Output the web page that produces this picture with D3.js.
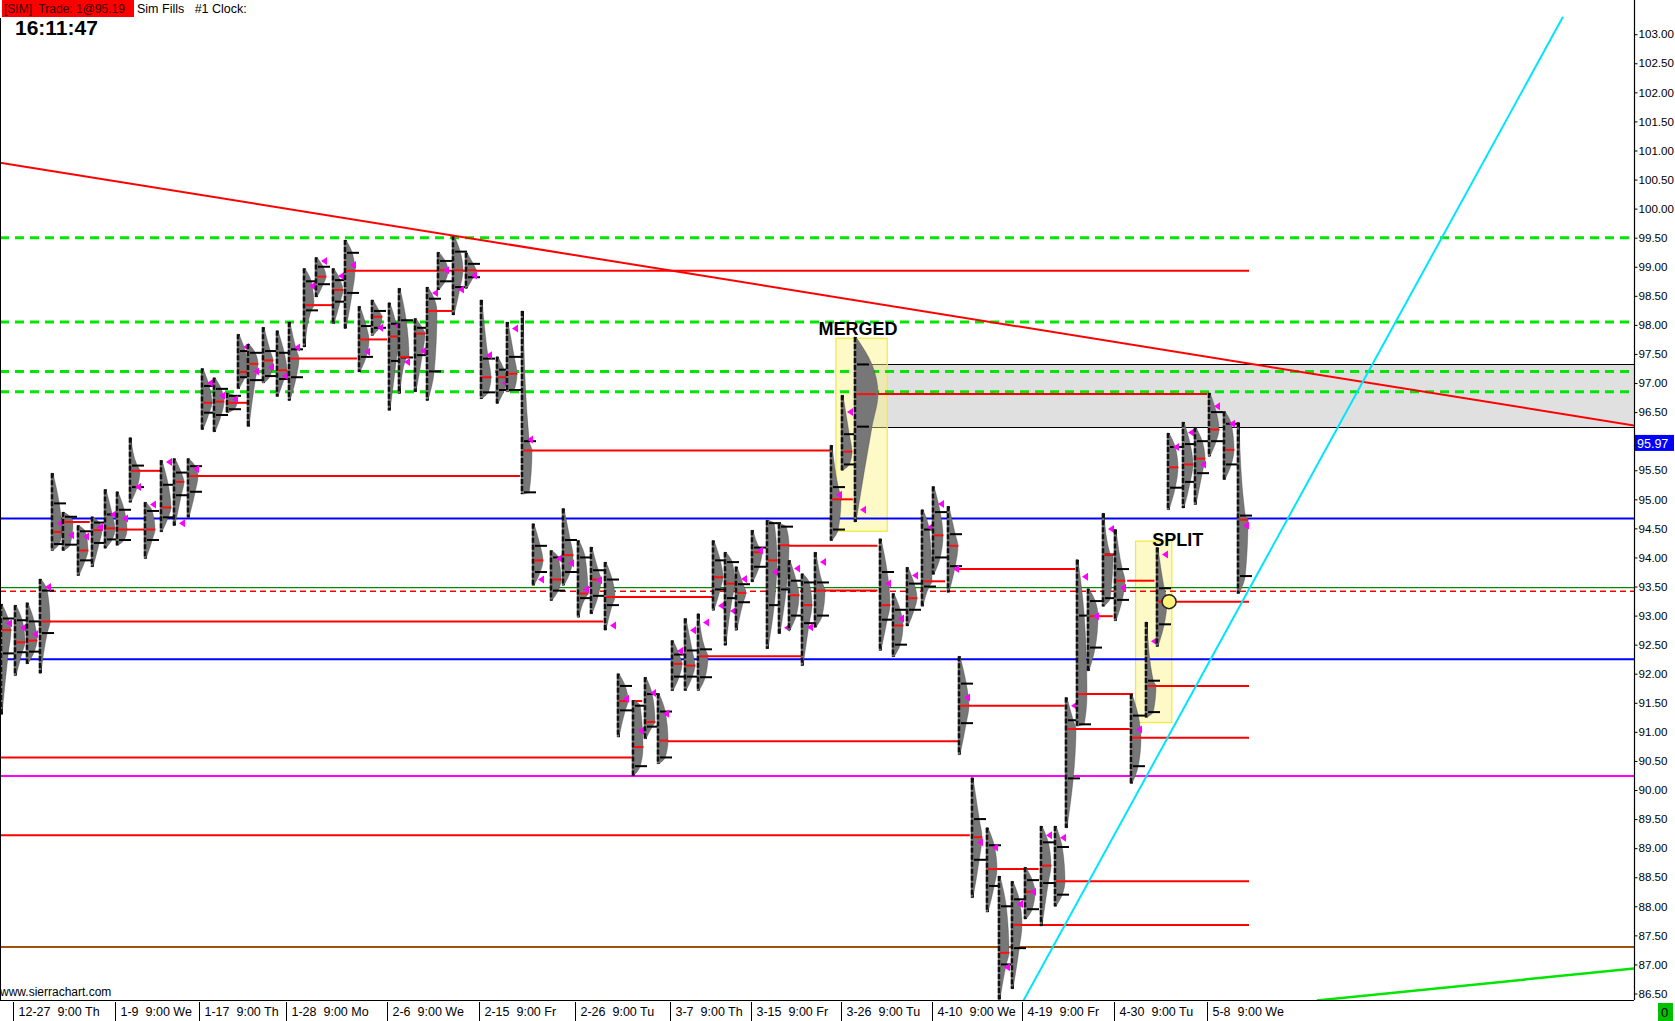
<!DOCTYPE html>
<html><head><meta charset="utf-8">
<script src="https://cdn.jsdelivr.net/npm/d3@7"></script>
<style>
body{margin:0;background:#fff;overflow:hidden}
svg text{font-family:"Liberation Sans",Arial,sans-serif}
</style>
</head><body>
<svg id="c" width="1675" height="1021"></svg>
<script>
// ---------------- DATA ----------------
const priceTicks = [86.5,87,87.5,88,88.5,89,89.5,90,90.5,91,91.5,92,92.5,93,93.5,94,94.5,95,95.5,96.5,97,97.5,98,98.5,99,99.5,100,100.5,101,101.5,102,102.5,103];
const timeLabels = ["12-27  9:00 Th","1-9  9:00 We","1-17  9:00 Th","1-28  9:00 Mo","2-6  9:00 We","2-15  9:00 Fr","2-26  9:00 Tu","3-7  9:00 Th","3-15  9:00 Fr","3-26  9:00 Tu","4-10  9:00 We","4-19  9:00 Fr","4-30  9:00 Tu","5-8  9:00 We"];
const timePos = [0.98,8.85,15.28,22.0,29.75,36.82,44.21,51.52,57.77,64.67,71.66,78.65,85.69,92.85];

// TPO profiles (session position, high, low, value area high/low, POC, marker)
const profPos  = [0.1,1.15,2.08,3.08, 4.0,4.85,6.0,7.08,8.08,9.0,10.0,11.15,12.38,13.38,14.46,
  15.54,16.46,17.46,18.31,19.08,20.23,21.31,22.23,23.38,24.31,25.62,26.54,27.62,28.62,29.92,30.69,31.92,32.85,33.69,34.85,35.85,37.0,38.23,39.0,40.15,
  41.0,42.38,43.31,44.46,45.46,46.54,47.54,48.69,49.62,50.62,51.69,52.69,53.69,54.85,55.77,56.62,57.85,59.0,59.92,60.69,61.69,62.69,
  63.92,64.77,65.77,67.69,68.69,
  69.77,70.92,71.77,72.92,73.77,74.77,75.92,76.85,77.85,78.85,80.08,81.15,82.0,82.85,83.69,84.85,85.77,87.0,88.15,89.0,
  89.85,91.0,91.92,93.0,94.15,95.23];
const profHigh = [93.20,93.18,93.22,93.63, 95.45,94.78,94.55,94.70,95.17,95.13,96.06,94.95,95.67,95.70,95.70,
  97.25,97.09,96.83,97.84,97.67,97.96,97.90,98.05,98.97,99.16,98.97,99.46,98.32,98.43,98.38,98.63,98.11,98.65,99.25,99.54,99.24,98.43,97.45,98.05,98.24,
  94.58,94.12,94.84,94.29,94.18,93.92,92.00,91.54,91.94,91.66,92.57,92.95,93.03,94.29,94.09,93.84,94.47,94.64,94.58,93.95,93.72,94.09,
  95.93,96.79,97.79,94.32,93.38,
  93.83,94.82,95.22,94.88,92.30,90.21,89.35,88.52,88.43,88.67,89.38,89.38,91.59,93.96,93.46,94.76,94.48,91.65,92.89,94.17,
  96.14,96.33,96.24,96.83,96.51,96.32];
const profLow  = [91.30,91.97,92.17,92.01, 94.12,94.12,93.69,93.84,94.16,94.21,94.95,93.98,94.44,94.55,94.69,
  96.20,96.16,96.49,96.90,96.25,97.00,96.77,96.70,97.62,98.48,98.02,97.94,97.19,97.82,96.53,96.82,96.85,96.70,98.60,98.17,98.63,96.73,96.65,96.85,95.09,
  93.52,93.26,93.52,92.97,93.03,92.75,90.91,90.25,90.88,90.45,91.71,91.71,91.71,93.09,92.49,92.75,93.58,92.43,92.69,92.75,92.14,92.80,
  94.29,95.50,94.61,92.40,92.29,
  92.82,93.16,93.71,93.40,90.61,88.15,87.90,86.40,86.58,87.78,87.66,88.00,89.35,91.10,92.05,93.16,92.91,90.11,91.25,92.47,
  94.82,94.85,94.91,95.74,95.34,93.38];
const profVAH  = [92.95,92.92,92.90,93.43, 94.93,94.70,94.45,94.60,94.74,94.82,95.58,94.80,95.25,95.46,95.57,
  96.95,96.90,96.78,97.55,97.52,97.55,97.52,97.58,98.75,99.00,98.77,99.24,97.98,98.24,98.02,98.08,97.95,98.45,99.10,99.26,99.05,97.42,97.23,97.45,96.00,
  94.20,94.00,94.30,94.00,93.78,93.62,91.79,91.45,91.65,91.35,92.33,92.40,92.42,93.95,93.92,93.54,94.17,94.59,94.53,93.60,93.57,93.57,
  95.21,96.12,97.32,93.75,93.10,
  93.55,94.48,94.78,94.40,91.83,89.50,89.05,88.00,88.12,88.45,89.10,89.02,91.20,93.00,93.25,94.05,93.80,91.28,91.88,93.47,
  95.90,95.95,96.00,96.50,96.30,94.72];
const profVAL  = [92.35,92.37,92.38,92.70, 94.23,94.22,93.95,94.25,94.31,94.30,95.21,94.30,94.69,95.07,95.13,
  96.49,96.45,96.55,97.10,97.05,97.12,97.07,97.10,98.25,98.70,98.40,98.55,97.45,97.95,97.38,97.44,97.48,97.20,98.75,98.65,98.82,96.84,96.88,96.88,95.12,
  93.75,93.43,93.75,93.30,93.34,93.18,91.37,90.41,91.09,90.56,91.95,91.95,91.94,93.45,93.30,93.23,93.84,93.18,93.45,93.00,92.87,93.00,
  94.48,95.60,96.25,92.93,92.50,
  93.10,93.50,94.00,93.85,91.15,88.80,88.35,87.00,87.28,87.95,88.40,88.20,90.20,91.13,92.45,93.30,93.27,90.41,91.34,92.85,
  95.20,95.30,95.45,96.00,95.60,93.68];
const profPOC  = [92.75,92.54,92.57,92.90, 94.44,94.61,94.12,94.47,94.50,94.48,95.49,94.48,94.86,95.30,95.40,
  96.66,96.68,96.66,97.19,97.33,97.39,97.22,97.42,98.34,98.83,98.60,98.93,97.75,98.14,97.80,97.45,97.85,98.24,98.94,98.94,98.94,97.10,97.10,97.16,95.84,
  93.95,93.62,94.04,93.38,93.62,93.32,91.53,90.74,91.17,90.85,92.17,92.14,92.30,93.66,93.55,93.39,94.09,93.95,94.21,93.35,93.18,93.43,
  95.00,95.82,96.81,93.18,92.83,
  93.30,93.59,94.38,94.20,91.45,89.19,88.64,87.20,87.68,88.25,88.70,88.43,91.05,91.65,92.99,94.05,93.60,90.90,91.79,93.24,
  95.55,95.60,95.70,96.20,95.85,94.65];
const profMark = [92.87,92.79,92.68,93.49, 94.59,94.38,94.36,94.52,94.74,94.67,95.21,94.91,95.64,94.59,95.52,
  97.00,96.78,96.72,97.62,97.20,97.27,97.12,97.61,98.67,99.10,98.84,99.03,97.54,97.95,97.99,97.36,97.55,98.55,98.94,98.61,98.85,97.48,97.00,97.94,96.03,
  93.62,93.98,93.90,93.45,93.61,92.83,91.57,91.02,91.67,91.31,92.39,92.75,92.88,93.17,93.08,93.63,94.12,93.75,92.79,93.81,92.80,93.92,
  95.08,96.50,94.82,93.55,92.95,
  93.69,94.52,94.92,93.80,91.59,89.10,89.01,86.95,88.04,88.25,89.22,89.18,91.45,93.67,92.99,94.49,93.48,91.04,92.56,94.05,
  95.90,96.15,95.60,96.60,96.30,94.55];
const wideProfiles = [64];

// naked POC / reference lines: price, from, to (session position)
const pocLinePrice = [98.93,98.34,98.24,97.42,97.75,96.66,95.40,95.84,95.49,94.61,94.48,92.90,90.56,89.22,94.20,95.00,93.32,92.30,90.84,91.53,93.43,93.80,91.45,91.65,91.05,91.79,90.90,93.24,93.60,92.99,88.64,88.43,87.68,93.59,96.81];
const pocLineFrom  = [27.15,23.85,33.23,22.92,28.23,17.85,15.15,40.54,10.77,5.6,9.46,3.6,0,0,60.2,64.4,47.2,54.4,51.3,48.6,63.3,73.5,74.4,83.3,82.5,88.6,87.7,89.5,86.7,84.5,76.4,81.7,78.5,71.3,66.2];
const pocLineTo    = [96.08,25.54,34.77,27.46,29.77,19.08,40.0,63.92,12.31,6.9,11.15,46.4,48.6,74.6,67.5,65.6,54.8,61.7,73.7,49.4,67.5,82.7,81.9,87.15,86.9,96.08,96.08,96.08,88.8,85.6,79.9,96.08,96.08,72.7,92.85];

// full width levels
const greenDashLevels = [99.5,98.05,97.2,96.85];
const blueLevels = [94.67,92.25];
const greenThinLevel = 93.48;
const redDashLevel = 93.42;
const magentaLevel = 90.24;
const brownLevel = 87.30;

// trend lines: [pos1, price1, pos2, price2]
const redTrend = [0,100.79,125.7,96.27];
const cyanTrend = [78.73,86.38,120.23,103.3];
const greenTrend = [101.3,86.38,125.7,86.93];

// value area extension zone and annotation boxes
const zoneFrom = 66.9, zoneTop = 97.32, zoneBottom = 96.24;
const boxFrom = [64.3,87.35], boxTo = [68.25,90.14], boxTop = [97.77,94.28], boxBottom = [94.45,91.16];
const boxLabels = ["MERGED","SPLIT"];
const boxLabelPos = [66.0,90.6], boxLabelPrice = [97.82,94.19];
const circlePos = 89.93, circlePrice = 93.24;
const lastPrice = 95.97;

// ---------------- DRAW ----------------
const svg = d3.select("#c");
const plotR = 1634, plotB = 1000;
const x = d3.scaleLinear().domain([0,126]).range([0,1638]);
const y = d3.scaleLinear().domain([86.5,103]).range([993.5,34.2]);

svg.append("rect").attr("width",1675).attr("height",1021).attr("fill","#fff");
svg.append("clipPath").attr("id","pc").append("rect").attr("x",0).attr("y",0).attr("width",plotR).attr("height",plotB);
const g = svg.append("g").attr("clip-path","url(#pc)");

// zone
g.append("rect").attr("x",x(zoneFrom)).attr("y",y(zoneTop)).attr("width",plotR-x(zoneFrom)).attr("height",y(zoneBottom)-y(zoneTop)).attr("fill","#e0e0e0");
[zoneTop,zoneBottom].forEach(p=>g.append("line").attr("x1",x(zoneFrom)-6).attr("x2",plotR).attr("y1",Math.round(y(p))+0.5).attr("y2",Math.round(y(p))+0.5).attr("stroke","#000").attr("stroke-width",1));

// yellow boxes
boxFrom.forEach((b,i)=>{
  g.append("rect").attr("x",x(b)).attr("y",y(boxTop[i])).attr("width",x(boxTo[i])-x(b)).attr("height",y(boxBottom[i])-y(boxTop[i]))
   .attr("fill","rgba(250,245,130,0.45)").attr("stroke","#f2ea3a").attr("stroke-width",1.2);
});

// levels
const hl = (p,col,w,dash)=>g.append("line").attr("x1",0).attr("x2",plotR).attr("y1",y(p)).attr("y2",y(p)).attr("stroke",col).attr("stroke-width",w).attr("stroke-dasharray",dash||null);
greenDashLevels.forEach(p=>hl(p,"#00e600",3,"9,6"));
blueLevels.forEach(p=>hl(p,"#0000ff",2));
hl(greenThinLevel,"#008a00",1.2);
hl(redDashLevel,"#ff0000",1.5,"6,4");
hl(magentaLevel,"#ff00ff",2);
hl(brownLevel,"#a0520a",2);

// POC lines
pocLinePrice.forEach((p,i)=>{
  g.append("line").attr("x1",x(pocLineFrom[i])).attr("x2",x(pocLineTo[i])).attr("y1",y(p)).attr("y2",y(p)).attr("stroke","#ff0000").attr("stroke-width",2);
});

// profiles
const area = d3.area().y(d=>y(d[0])).x0(d=>d[2]).x1(d=>d[2]+d[1]).curve(d3.curveMonotoneY);
profPos.forEach((pos,i)=>{
  const px = Math.round(x(pos));
  const w = wideProfiles.includes(i) ? 24 : 11;
  const pts = [[profLow[i],2],[profVAL[i],w*0.75],[profPOC[i],w],[profVAH[i],w*0.75],[profHigh[i],2]]
     .sort((a,b)=>a[0]-b[0]).map(d=>[d[0],d[1],px-1]);
  g.append("rect").attr("x",px-1).attr("y",y(profHigh[i])).attr("width",3).attr("height",y(profLow[i])-y(profHigh[i])).attr("fill","#000");
  g.append("path").attr("d",area(pts)).attr("fill","#777").attr("stroke","#333").attr("stroke-width",0.5).attr("stroke-opacity",0.6);
  g.append("line").attr("x1",px).attr("x2",px).attr("y1",y(profHigh[i])).attr("y2",y(profLow[i])).attr("stroke","#000").attr("stroke-width",2.5).attr("stroke-dasharray","5,2").attr("opacity",0.85);
  [profVAH[i],profVAL[i]].forEach(v=>g.append("line").attr("x1",px+2).attr("x2",px+14).attr("y1",y(v)).attr("y2",y(v)).attr("stroke","#000").attr("stroke-width",2));
  g.append("line").attr("x1",px+1).attr("x2",px+1+w*0.85).attr("y1",y(profPOC[i])).attr("y2",y(profPOC[i])).attr("stroke","#ff1010").attr("stroke-width",2);
  const my = y(profMark[i]);
  g.append("path").attr("d",`M${px+5},${my}L${px+11},${my-4}L${px+11},${my+4}Z`).attr("fill","#ff00ff");
});

// trend lines
const tl = (t,col,w)=>g.append("line").attr("x1",x(t[0])).attr("y1",y(t[1])).attr("x2",x(t[2])).attr("y2",y(t[3])).attr("stroke",col).attr("stroke-width",w);
tl(redTrend,"#ff0000",2);
tl(cyanTrend,"#00e5ff",2);
tl(greenTrend,"#00e600",2.5);

// annotations
boxLabels.forEach((t,i)=>g.append("text").attr("x",x(boxLabelPos[i])).attr("y",y(boxLabelPrice[i])).attr("text-anchor","middle")
  .attr("font-size",18).attr("font-weight","bold").attr("fill","#000").text(t));
g.append("circle").attr("cx",x(circlePos)).attr("cy",y(circlePrice)).attr("r",7).attr("fill","#fff27a").attr("stroke","#222").attr("stroke-width",1.5);

// frame
svg.append("line").attr("x1",0.5).attr("x2",0.5).attr("y1",18).attr("y2",plotB).attr("stroke","#000");
svg.append("line").attr("x1",plotR+0.5).attr("x2",plotR+0.5).attr("y1",0).attr("y2",plotB).attr("stroke","#000").attr("stroke-width",1.2);
svg.append("line").attr("x1",0).attr("x2",plotR).attr("y1",plotB+0.5).attr("y2",plotB+0.5).attr("stroke","#000").attr("stroke-width",1.2);

// price axis
const ax = svg.append("g").attr("transform",`translate(${plotR+0.5},0)`)
  .call(d3.axisRight(y).tickValues(priceTicks).tickFormat(d3.format(".2f")).tickSize(3).tickPadding(1));
ax.select(".domain").remove();
ax.selectAll("text").attr("font-size",11.6).attr("fill","#000").style("font-family","'Liberation Sans',Arial,sans-serif");
ax.selectAll("line").attr("stroke","#000");
// last price box
svg.append("rect").attr("x",plotR+1).attr("y",y(lastPrice)-8).attr("width",39).attr("height",16).attr("fill","#0000ff");
svg.append("text").attr("x",plotR+3).attr("y",y(lastPrice)+5).attr("font-size",12.5).attr("fill","#fff").text(lastPrice.toFixed(2));

// time axis
timePos.forEach((p,i)=>{
  const tx = Math.round(x(p))+0.5;
  svg.append("line").attr("x1",tx).attr("x2",tx).attr("y1",plotB+2).attr("y2",1021).attr("stroke","#000");
  svg.append("text").attr("x",tx+5).attr("y",1016).attr("font-size",12.5).attr("fill","#000").style("white-space","pre").text(timeLabels[i]);
});
svg.append("text").attr("x",0).attr("y",996).attr("font-size",12).attr("fill","#000").text("www.sierrachart.com");
svg.append("rect").attr("x",1658).attr("y",1003).attr("width",15).attr("height",18).attr("fill","#00c000");
svg.append("text").attr("x",1661).attr("y",1017).attr("font-size",13).attr("fill","#000").text("0");

// header
svg.append("rect").attr("x",2).attr("y",0).attr("width",132).attr("height",17).attr("fill","#ff0000");
svg.append("text").attr("x",4).attr("y",13).attr("font-size",12).attr("fill","#3a0000").style("white-space","pre").text("[SIM]  Trade: 1@95.19");
svg.append("text").attr("x",137).attr("y",13).attr("font-size",12.5).attr("fill","#000").style("white-space","pre").text("Sim Fills   #1 Clock:");
svg.append("text").attr("x",15).attr("y",35).attr("font-size",21).attr("font-weight","bold").attr("fill","#000").text("16:11:47");
</script>
</body></html>
